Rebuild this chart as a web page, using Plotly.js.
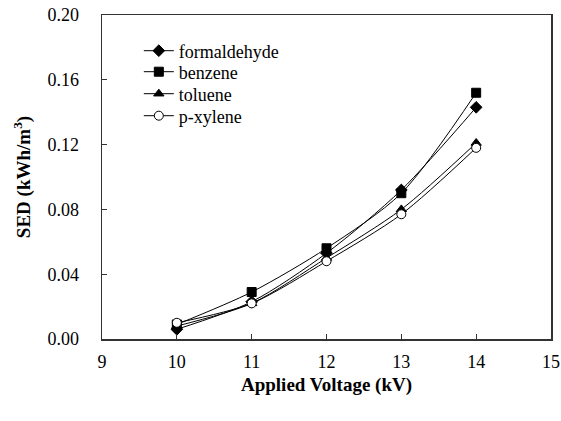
<!DOCTYPE html>
<html>
<head>
<meta charset="utf-8">
<script src="https://cdn.plot.ly/plotly-3.0.1.min.js"></script>
<style>html,body{margin:0;padding:0;background:#fff;}#chart{width:561px;height:421px;}</style>
</head>
<body>
<div id="chart"></div>
<script>
const voltage = [10, 11, 12, 13, 14];
const formaldehyde = [0.006, 0.023, 0.053, 0.092, 0.143];
const benzene = [0.009, 0.029, 0.056, 0.090, 0.152];
const toluene = [0.008, 0.022, 0.050, 0.080, 0.121];
const pxylene = [0.010, 0.022, 0.048, 0.077, 0.118];
const seriesNames = ['formaldehyde', 'benzene', 'toluene', 'p-xylene'];
const xTicks = [9, 10, 11, 12, 13, 14, 15];
const yTicks = [0.00, 0.04, 0.08, 0.12, 0.16, 0.20];

const FAM = 'Times New Roman';
const legendIds = ['legend', 'legend2', 'legend3', 'legend4'];
function tr(i, y, sym, fill) {
  return {
    x: voltage, y: y, name: seriesNames[i], type: 'scatter', mode: 'lines+markers',
    legend: legendIds[i],
    line: {color: '#000', width: 1, shape: 'spline', smoothing: 0.8},
    marker: {symbol: sym, size: 9, color: fill, line: {color: '#000', width: 1}}
  };
}
const data = [
  tr(0, formaldehyde, 'diamond', '#000'),
  tr(1, benzene, 'square', '#000'),
  tr(2, toluene, 'triangle-up', '#000'),
  tr(3, pxylene, 'circle', '#fff')
];
const plotH = 324;
const legRowY = [51, 72, 94, 116];
const layout = {
  width: 561, height: 421,
  margin: {l: 102, r: 10, t: 15, b: 82},
  paper_bgcolor: '#fff', plot_bgcolor: '#fff',
  showlegend: true,
  xaxis: {
    range: [9, 15], tickvals: xTicks, ticktext: xTicks.map(String),
    ticks: 'inside', ticklen: 5, tickcolor: '#333', tickwidth: 1,
    showline: true, linecolor: '#333', linewidth: 1.5, mirror: true,
    showgrid: false, zeroline: false,
    tickfont: {family: FAM, size: 18, color: '#000'}, ticklabelstandoff: 6,
    title: {text: 'Applied Voltage (kV)', font: {family: FAM, size: 19, weight: 'bold', color: '#000'}, standoff: 6}
  },
  yaxis: {
    range: [0, 0.20], tickvals: yTicks, ticktext: yTicks.map(v => v.toFixed(2)),
    ticks: 'inside', ticklen: 5, tickcolor: '#333', tickwidth: 1,
    showline: true, linecolor: '#333', linewidth: 1.5, mirror: true,
    showgrid: false, zeroline: false,
    tickfont: {family: FAM, size: 18, color: '#000'}, ticklabelstandoff: 18,
    title: {text: 'SED (kWh/m<sup>3</sup>)', font: {family: FAM, size: 19, weight: 'bold', color: '#000'}, standoff: 12}
  }
};
legendIds.forEach((id, i) => {
  layout[id] = {
    x: 0.082, y: (339 - legRowY[i]) / plotH, xanchor: 'left', yanchor: 'middle',
    bgcolor: 'rgba(0,0,0,0)', borderwidth: 0,
    font: {family: FAM, size: 18, color: '#000'}
  };
});
Plotly.newPlot('chart', data, layout, {displayModeBar: false, staticPlot: true});
</script>
</body>
</html>
